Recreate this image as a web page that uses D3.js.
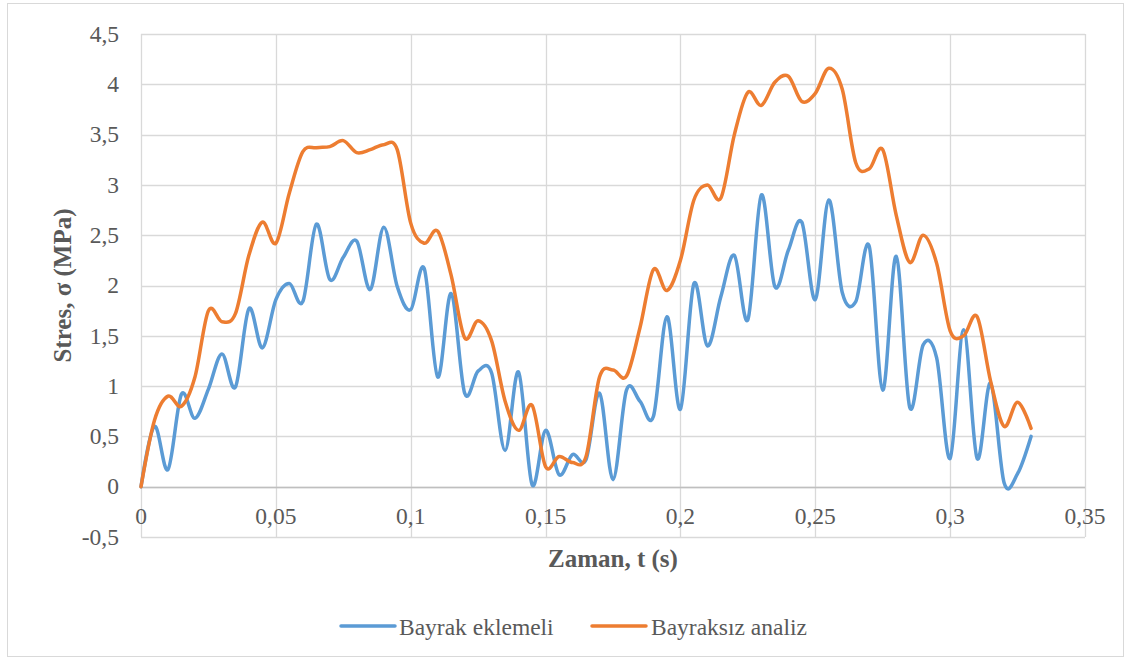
<!DOCTYPE html>
<html>
<head>
<meta charset="utf-8">
<script src="https://cdn.jsdelivr.net/npm/d3@7"></script>
<style>
  html, body { margin: 0; padding: 0; background: #ffffff; }
  svg { display: block; }
  text { font-family: "Liberation Serif", "Times New Roman", serif; }
</style>
</head>
<body>
<svg id="chart" width="1131" height="661"></svg>
<script>
// Time samples (s)
const timeS = [
  0, 0.005, 0.01, 0.015, 0.02, 0.025, 0.03, 0.035, 0.04, 0.045,
  0.05, 0.055, 0.06, 0.065, 0.07, 0.075, 0.08, 0.085, 0.09, 0.095,
  0.1, 0.105, 0.11, 0.115, 0.12, 0.125, 0.13, 0.135, 0.14, 0.145,
  0.15, 0.155, 0.16, 0.165, 0.17, 0.175, 0.18, 0.185, 0.19, 0.195,
  0.2, 0.205, 0.21, 0.215, 0.22, 0.225, 0.23, 0.235, 0.24, 0.245,
  0.25, 0.255, 0.26, 0.265, 0.27, 0.275, 0.28, 0.285, 0.29, 0.295,
  0.3, 0.305, 0.31, 0.315, 0.32, 0.325, 0.33
];

// Stress (MPa) with flag insertion
const bayrakEklemeli = [
  0, 0.60, 0.17, 0.92, 0.68, 0.97, 1.32, 0.99, 1.77, 1.38,
  1.86, 2.02, 1.84, 2.61, 2.06, 2.28, 2.44, 1.96, 2.58, 1.99,
  1.76, 2.17, 1.09, 1.92, 0.93, 1.15, 1.13, 0.36, 1.14, 0.02,
  0.56, 0.12, 0.32, 0.27, 0.93, 0.07, 0.96, 0.85, 0.70, 1.69,
  0.77, 2.02, 1.40, 1.89, 2.30, 1.66, 2.90, 1.99, 2.35, 2.63,
  1.86, 2.85, 1.93, 1.84, 2.39, 0.96, 2.29, 0.79, 1.41, 1.28,
  0.28, 1.56, 0.28, 1.03, 0.04, 0.13, 0.50
];

// Stress (MPa) without flag
const bayraksizAnaliz = [
  0, 0.66, 0.90, 0.80, 1.09, 1.75, 1.64, 1.72, 2.30, 2.63,
  2.42, 2.92, 3.33, 3.37, 3.38, 3.44, 3.32, 3.35, 3.40, 3.35,
  2.62, 2.42, 2.54, 2.10, 1.48, 1.65, 1.45, 0.85, 0.56, 0.81,
  0.20, 0.30, 0.24, 0.30, 1.09, 1.16, 1.10, 1.58, 2.16, 1.95,
  2.25, 2.85, 3.00, 2.87, 3.50, 3.92, 3.79, 4.02, 4.08, 3.83,
  3.91, 4.16, 3.95, 3.22, 3.16, 3.35, 2.70, 2.23, 2.50, 2.22,
  1.55, 1.50, 1.69, 1.05, 0.60, 0.84, 0.58
];

const seriesNames = ["Bayrak eklemeli", "Bayraksız analiz"];
const seriesColors = ["#5b9bd5", "#ed7d31"];

const xTicks = [0, 0.05, 0.1, 0.15, 0.2, 0.25, 0.3, 0.35];
const yTicks = [-0.5, 0, 0.5, 1, 1.5, 2, 2.5, 3, 3.5, 4, 4.5];

const xTitle = "Zaman, t (s)";
const yTitle = "Stres, σ (MPa)";

// Turkish-style number formatting (decimal comma)
const locale = d3.formatLocale({ decimal: ",", thousands: ".", grouping: [3], currency: ["", " ₺"], minus: "-" });
const fmt = locale.format("~g");

const svg = d3.select("#chart");

// Chart frame
svg.append("rect")
  .attr("x", 7.5).attr("y", 3.5)
  .attr("width", 1116).attr("height", 653)
  .attr("fill", "#ffffff")
  .attr("stroke", "#d9d9d9").attr("stroke-width", 1);

const plot = { left: 141, right: 1085, top: 34, bottom: 537 };

const x = d3.scaleLinear().domain([0, 0.35]).range([plot.left, plot.right]);
const y = d3.scaleLinear().domain([-0.5, 4.5]).range([plot.bottom, plot.top]);

// Horizontal gridlines
svg.append("g")
  .selectAll("line")
  .data(yTicks)
  .join("line")
  .attr("x1", plot.left).attr("x2", plot.right)
  .attr("y1", d => Math.round(y(d)) + 0.5).attr("y2", d => Math.round(y(d)) + 0.5)
  .attr("stroke", "#d9d9d9").attr("stroke-width", 1.3);

// Vertical gridlines
svg.append("g")
  .selectAll("line")
  .data(xTicks)
  .join("line")
  .attr("x1", d => Math.round(x(d)) + 0.5).attr("x2", d => Math.round(x(d)) + 0.5)
  .attr("y1", plot.top).attr("y2", plot.bottom)
  .attr("stroke", "#d9d9d9").attr("stroke-width", 1.3);

// Horizontal axis line at zero
svg.append("line")
  .attr("x1", plot.left).attr("x2", plot.right)
  .attr("y1", Math.round(y(0)) + 0.5).attr("y2", Math.round(y(0)) + 0.5)
  .attr("stroke", "#bfbfbf").attr("stroke-width", 1.5);

// Y tick labels
svg.append("g")
  .selectAll("text")
  .data(yTicks)
  .join("text")
  .attr("x", plot.left - 22)
  .attr("y", d => y(d))
  .attr("dy", "0.33em")
  .attr("text-anchor", "end")
  .attr("font-size", 23.5)
  .attr("fill", "#595959")
  .text(d => fmt(d));

// X tick labels (below the zero line)
svg.append("g")
  .selectAll("text")
  .data(xTicks)
  .join("text")
  .attr("x", d => x(d))
  .attr("y", y(0) + 37)
  .attr("text-anchor", "middle")
  .attr("font-size", 23.5)
  .attr("fill", "#595959")
  .text(d => fmt(d));

// Axis titles
svg.append("text")
  .attr("x", (plot.left + plot.right) / 2)
  .attr("y", 567)
  .attr("text-anchor", "middle")
  .attr("font-size", 25)
  .attr("font-weight", "bold")
  .attr("fill", "#595959")
  .attr("xml:space", "preserve")
  .text(xTitle);

svg.append("text")
  .attr("transform", `translate(71,${(plot.top + plot.bottom) / 2}) rotate(-90)`)
  .attr("text-anchor", "middle")
  .attr("font-size", 25)
  .attr("font-weight", "bold")
  .attr("fill", "#595959")
  .text(yTitle);

// Series lines (smoothed)
const line = d3.line()
  .x(d => x(d[0]))
  .y(d => y(d[1]))
  .curve(d3.curveCatmullRom.alpha(0));

const seriesValues = [bayrakEklemeli, bayraksizAnaliz];
seriesValues.forEach((vals, i) => {
  svg.append("path")
    .datum(timeS.map((t, k) => [t, vals[k]]))
    .attr("fill", "none")
    .attr("stroke", seriesColors[i])
    .attr("stroke-width", 3.5)
    .attr("stroke-linejoin", "round")
    .attr("stroke-linecap", "round")
    .attr("d", line);
});

// Legend
const legendItems = [
  { x1: 341, x2: 395, tx: 399 },
  { x1: 592, x2: 646, tx: 651 }
];
const legend = svg.append("g");
legendItems.forEach((it, i) => {
  legend.append("line")
    .attr("x1", it.x1).attr("x2", it.x2)
    .attr("y1", 626).attr("y2", 626)
    .attr("stroke", seriesColors[i])
    .attr("stroke-width", 3.5)
    .attr("stroke-linecap", "round");
  legend.append("text")
    .attr("x", it.tx).attr("y", 635)
    .attr("font-size", 23.5)
    .attr("fill", "#595959")
    .text(seriesNames[i]);
});
</script>
</body>
</html>
